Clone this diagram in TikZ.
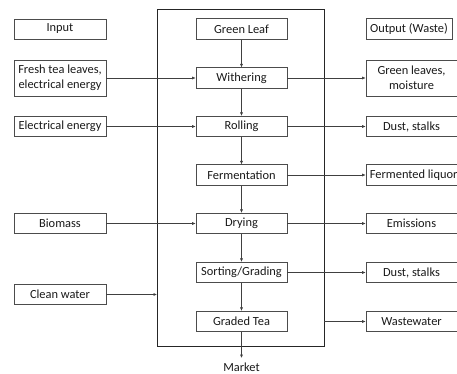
\documentclass[tikz,border=0pt]{standalone}
\usepackage{fontspec}
\setmainfont{Carlito}
\usetikzlibrary{arrows.meta}
\begin{document}
\begin{tikzpicture}[x=1pt,y=1pt,
  txt/.style={font=\fontsize{12.4}{15}\selectfont,text=black!90},
  box/.style={txt,draw=black!70,line width=0.6pt,inner sep=1pt,align=center},
  lbox/.style={box,minimum width=92pt,minimum height=20pt},
  cbox/.style={box,minimum width=91pt,minimum height=20.5pt},
  rbox/.style={box,minimum width=91pt,minimum height=20.5pt},
  conn/.style={draw=black!75,line width=0.6pt,-{Latex[length=3.5pt,width=3pt]}}]
\useasboundingbox (0,0) rectangle (457,374);
\begin{scope}
\clip (0,0) rectangle (457,374);
% big rectangle
\draw[black!85,line width=0.8pt] (157,374-9) rectangle (324,374-346);
% left boxes
\node[lbox] (in) at (60,374-29) {Input};
\node[lbox,minimum height=36pt] (fresh) at (60,374-78) {Fresh tea leaves,\\electrical energy};
\node[lbox] (elec) at (60,374-126.5) {Electrical energy};
\node[lbox] (bio) at (60,374-223.5) {Biomass};
\node[lbox] (water) at (60,374-294.5) {Clean water};
% centre boxes
\node[cbox] (leaf) at (241.5,374-29) {Green Leaf};
\node[cbox] (with) at (241.5,374-78) {Withering};
\node[cbox] (roll) at (241.5,374-126.5) {Rolling};
\node[cbox] (ferm) at (241.5,374-175) {Fermentation};
\node[cbox] (dry) at (241.5,374-223.5) {Drying};
\node[cbox] (sort) at (241.5,374-272.5) {Sorting/Grading};
\node[cbox] (grad) at (241.5,374-321.5) {Graded Tea};
% right boxes
\node[rbox,minimum width=86pt] (out) at (409,374-29) {Output (Waste)};
\node[rbox,minimum height=36pt] (green) at (411.5,374-78) {Green leaves,\\moisture};
\node[rbox] (dust1) at (411.5,374-126.5) {Dust, stalks};
\node[rbox] (liq) at (411.5,374-175) {};
\node[txt,anchor=west,inner sep=0pt] (liqt) at ([xshift=4pt]liq.west) {Fermented liquor};
\node[rbox] (emis) at (411.5,374-223.5) {Emissions};
\node[rbox] (dust2) at (411.5,374-272.5) {Dust, stalks};
\node[rbox] (ww) at (411.5,374-321.5) {Wastewater};
\node[txt] (mkt) at (241.5,374-367) {Market};
\coordinate (cwin) at (157,374-294.5);
\coordinate (wwout) at (324,374-321.5);
% connectors
\draw[conn] (leaf) -- (with);
\draw[conn] (with) -- (roll);
\draw[conn] (roll) -- (ferm);
\draw[conn] (ferm) -- (dry);
\draw[conn] (dry) -- (sort);
\draw[conn] (sort) -- (grad);
\draw[conn] (grad.south) -- ++(0,-26);
\draw[conn] (fresh) -- (with);
\draw[conn] (elec) -- (roll);
\draw[conn] (bio) -- (dry);
\draw[conn] (water) -- (cwin);
\draw[conn] (with) -- (green);
\draw[conn] (roll) -- (dust1);
\draw[conn] (ferm) -- (liq);
\draw[conn] (dry) -- (emis);
\draw[conn] (sort) -- (dust2);
\draw[conn] (wwout) -- (ww);
\end{scope}
\end{tikzpicture}
\end{document}
